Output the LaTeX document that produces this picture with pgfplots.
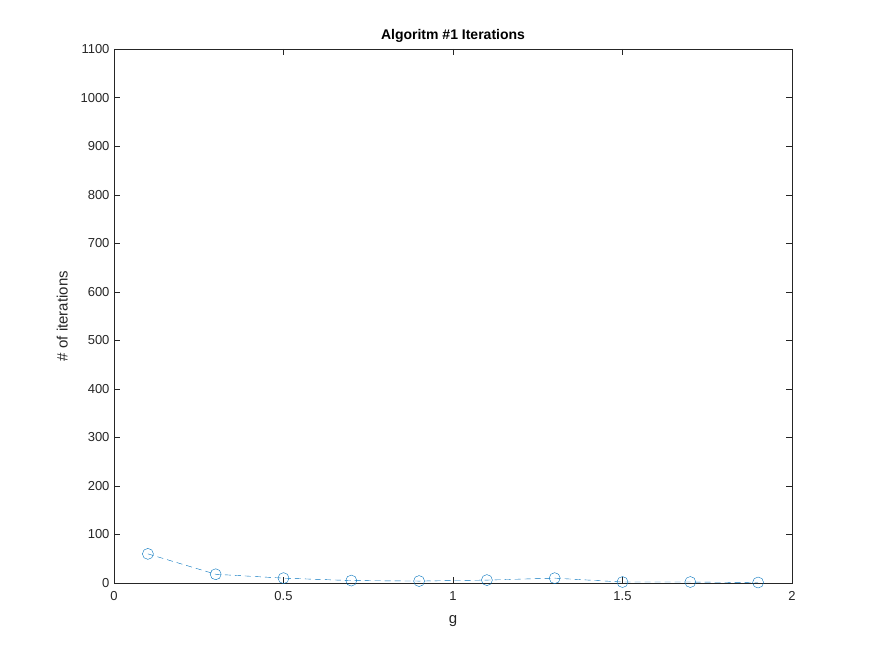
\documentclass[border=0pt]{standalone}
\usepackage{pgfplots}
\pgfplotsset{compat=1.18}
\usepackage{fontspec}
\setmainfont{Liberation Sans}
\usetikzlibrary{calc}
\definecolor{mblue}{RGB}{0,114,189}
\begin{document}
\fontsize{13}{15}\selectfont
\begin{tikzpicture}[font=\fontsize{13}{15}\selectfont]
\begin{axis}[
  scale only axis, width=678pt, height=534pt,
  xmin=0, xmax=2, ymin=0, ymax=1100,
  xtick={0,0.5,1,1.5,2}, ytick={0,100,...,1100},
  tick align=inside, major tick length=6pt,
  xtick pos=both, ytick pos=both,
  axis line style={draw=black!85}, tick style={black!85},
  /pgf/number format/assume math mode=true,
  /pgf/number format/1000 sep={},
  tick label style={font=\fontsize{13}{15}\selectfont, text=black!85},
  xticklabel style={yshift=-4pt},
  xlabel={g}, ylabel={\# of iterations},
  xlabel style={font=\fontsize{15}{17}\selectfont, text=black!85, yshift=-6pt},
  ylabel style={font=\fontsize{15}{17}\selectfont, text=black!85, yshift=4pt},
  title={\textbf{Algoritm \#1 Iterations}},
  title style={font=\fontsize{14}{16}\selectfont, yshift=-4pt},
  clip=false,
]
\addplot[mblue, dash pattern=on 6pt off 4pt, mark=o, mark size=5.5pt, mark options={solid}]
  coordinates {(0.1,60)(0.3,18)(0.5,10)(0.7,5)(0.9,4)(1.1,6)(1.3,10)(1.5,2)(1.7,2)(1.9,1)};
\coordinate (sw) at (rel axis cs:0,0);
\coordinate (ne) at (rel axis cs:1,1);
\end{axis}
\pgfresetboundingbox
\path ($(sw)+(-114pt,-73pt)$) rectangle ($(ne)+(83pt,49pt)$);
\end{tikzpicture}
\end{document}
